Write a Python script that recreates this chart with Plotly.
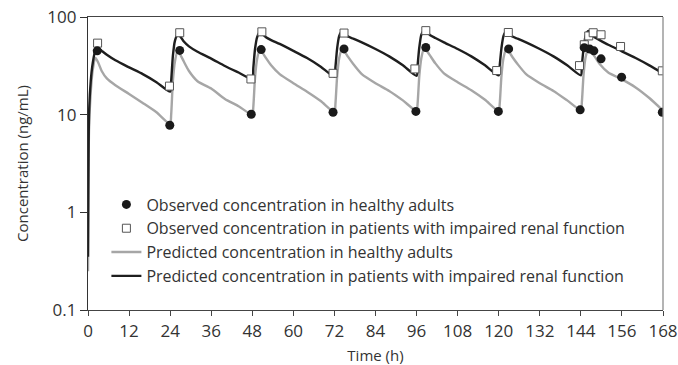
import plotly.graph_objects as go

# Observed concentrations (ng/mL) vs time (h)
healthy_time = [2.7, 23.9, 26.8, 47.7, 50.6, 71.6, 74.8, 95.8, 98.7, 119.9, 122.9,
                143.8, 145.0, 146.6, 147.8, 149.9, 155.9, 167.8]
healthy_conc = [45.0, 7.8, 45.5, 10.1, 46.4, 10.6, 47.1, 10.8, 48.7, 10.8, 47.1,
                11.2, 48.5, 46.9, 45.0, 37.3, 24.2, 10.6]

renal_time = [2.8, 23.8, 26.8, 47.6, 50.8, 71.6, 74.8, 95.5, 98.7, 119.4, 122.8,
              143.6, 145.0, 146.3, 147.6, 149.9, 155.6, 167.8]
renal_conc = [54.0, 19.6, 69.0, 23.2, 70.5, 26.5, 68.5, 29.4, 72.5, 28.3, 69.4,
              31.8, 52.0, 64.0, 69.0, 65.8, 49.9, 28.1]

# Model-predicted profiles, once-daily dosing over 7 days
pred_time = [
    0, 0.3, 0.8, 1.4, 2.2, 3, 4, 5.5, 8, 12, 16, 20,
    24, 24.3, 24.8, 25.4, 26.2, 27, 28, 29.5, 32, 36, 40, 44,
    48, 48.3, 48.8, 49.4, 50.2, 51, 52, 53.5, 56, 60, 64, 68,
    72, 72.3, 72.8, 73.4, 74.2, 75, 76, 77.5, 80, 84, 88, 92,
    96, 96.3, 96.8, 97.4, 98.2, 99, 100, 101.5, 104, 108, 112, 116,
    120, 120.3, 120.8, 121.4, 122.2, 123, 124, 125.5, 128, 132, 136, 140,
    144, 144.3, 144.8, 145.4, 146.2, 147, 148, 149.5, 152, 156, 160, 164,
    168,
]
pred_healthy = [
    0.25, 7, 17, 29, 38, 34, 28, 23.5, 20, 16.3, 13.2, 10.6,
    8.0, 10, 22, 35, 45, 41, 35, 28, 22, 18.5, 14.5, 12.2,
    10.0, 12, 24, 37, 46, 43, 38, 32, 26, 21, 17.2, 13.8,
    10.6, 13, 25, 38, 47, 44, 39, 33, 26, 21, 17.5, 14,
    10.9, 13, 25, 38, 48, 45, 40, 33.5, 26.5, 21.5, 17.8, 14.2,
    10.9, 13, 25, 38, 47, 44, 39, 33, 26, 21, 17.5, 14,
    11.1, 13.5, 26, 39, 47, 44, 39.5, 33, 27, 23, 19, 14.8,
    11.0,
]
pred_renal = [
    0.35, 10, 22, 34, 46, 48, 45, 41, 36, 30.5, 26, 21.5,
    17.2, 22, 40, 57, 66, 63, 56, 50, 44, 37.5, 31.5, 27,
    23.2, 30, 47, 62, 70, 67, 62, 58, 53, 45, 38, 31,
    24.5, 31, 48, 64, 71, 68, 63, 60, 55, 47, 39.5, 32,
    25.0, 32, 49, 66, 73, 70, 65, 61, 55, 47, 39.5, 32,
    25.2, 32, 48, 64, 71, 68, 63, 60, 55, 47, 39.5, 32,
    25.3, 32, 48, 64, 72, 68, 62, 58, 52, 44.5, 38, 32,
    26.5,
]

x_ticks = [0, 12, 24, 36, 48, 60, 72, 84, 96, 108, 120, 132, 144, 156, 168]
y_ticks = [0.1, 1, 10, 100]
y_tick_text = ["0.1", "1", "10", "100"]

FONT = "Open Sans"
TXT = "#333333"

fig = go.Figure()

fig.add_trace(go.Scatter(
    x=pred_time, y=pred_healthy, mode="lines",
    name="Predicted concentration in healthy adults",
    line=dict(color="#a6a6a6", width=2.4, shape="spline", smoothing=0.6),
    legendrank=3,
))
fig.add_trace(go.Scatter(
    x=pred_time, y=pred_renal, mode="lines",
    name="Predicted concentration in patients with impaired renal function",
    line=dict(color="#1e1e1e", width=2.4, shape="spline", smoothing=0.6),
    legendrank=4,
))
fig.add_trace(go.Scatter(
    x=renal_time, y=renal_conc, mode="markers",
    name="Observed concentration in patients with impaired renal function",
    marker=dict(symbol="square", size=8, color="white",
                line=dict(color="#555555", width=1)),
    legendrank=2,
))
fig.add_trace(go.Scatter(
    x=healthy_time, y=healthy_conc, mode="markers",
    name="Observed concentration in healthy adults",
    marker=dict(symbol="circle", size=9, color="#1a1a1a"),
    legendrank=1,
))

fig.update_layout(
    width=678, height=365,
    margin=dict(l=88, r=15, t=17, b=55),
    paper_bgcolor="white", plot_bgcolor="white",
    font=dict(family=FONT, color=TXT, size=17),
    showlegend=True,
    legend=dict(
        x=0.032, y=0.418, xanchor="left", yanchor="top",
        bgcolor="rgba(0,0,0,0)", borderwidth=0,
        font=dict(family=FONT, size=16, color=TXT),
    ),
    xaxis=dict(
        range=[0, 168], tickvals=x_ticks, ticks="outside", ticklen=5,
        tickcolor="#444444", showline=True, linecolor="#444444", linewidth=1.3,
        mirror=True, showgrid=False, zeroline=False, automargin=False,
        tickfont=dict(size=17, family=FONT, color=TXT),
        title=dict(text="Time (h)", font=dict(size=15, family=FONT, color=TXT),
                   standoff=16),
    ),
    yaxis=dict(
        type="log", range=[-1, 2], tickvals=y_ticks, ticktext=y_tick_text,
        ticks="outside", ticklen=7, tickcolor="#333333",
        showline=True, linecolor="#333333", linewidth=1.3,
        showgrid=False, zeroline=False, automargin=False,
        tickfont=dict(size=17, family=FONT, color=TXT),
        title=dict(text="Concentration (ng/mL)",
                   font=dict(size=15, family=FONT, color=TXT), standoff=15),
    ),
    shapes=[dict(type="line", xref="paper", yref="paper", x0=1, x1=1, y0=0, y1=1,
                 line=dict(color="#8c8c8c", width=1.3))],
)

fig.write_html("out.html")
